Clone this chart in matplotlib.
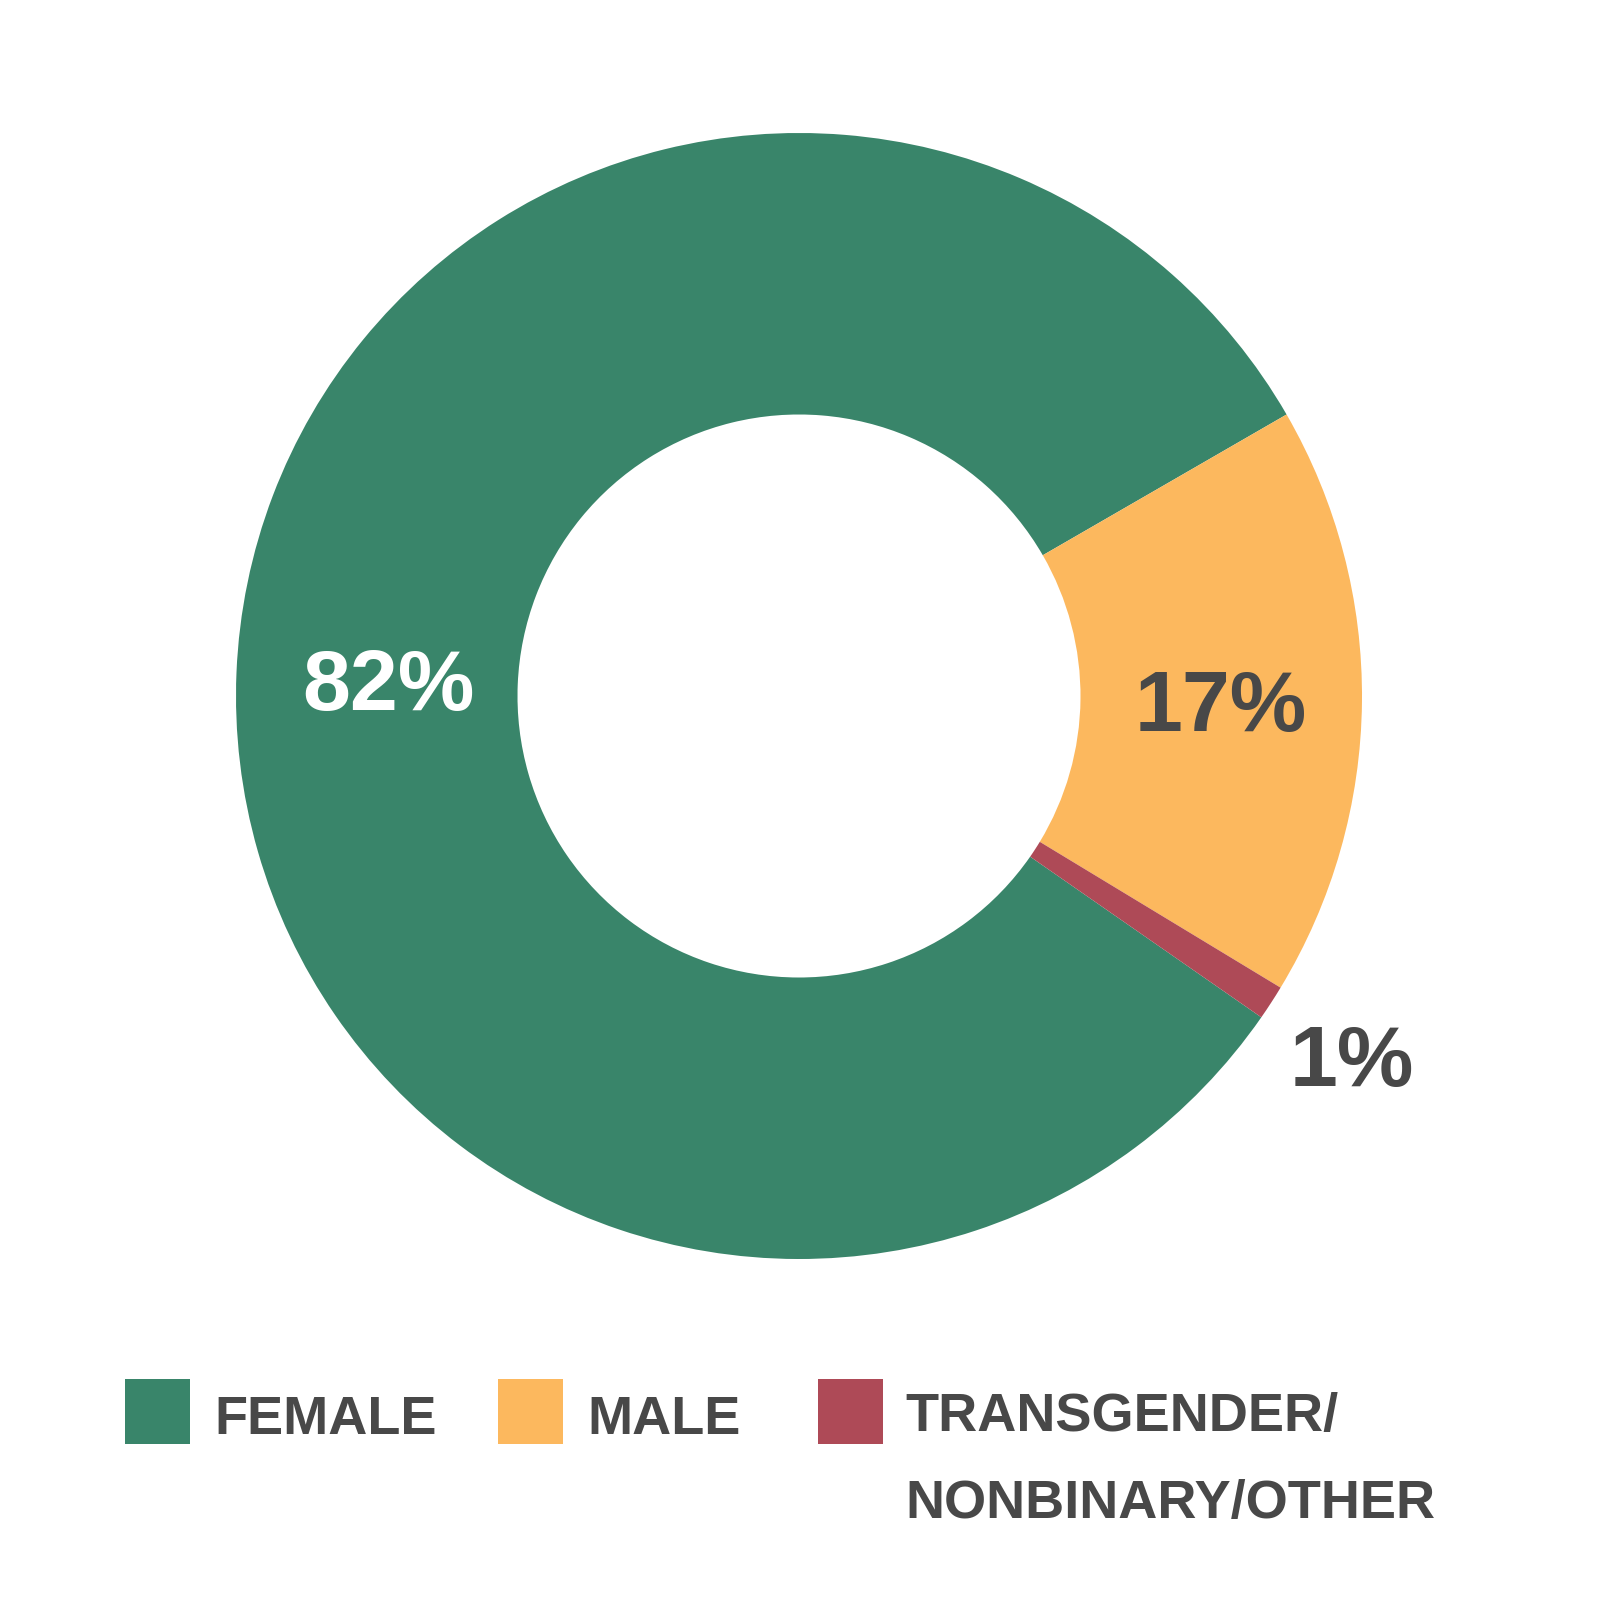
import numpy as np
import matplotlib
matplotlib.use("Agg")
import matplotlib.pyplot as plt
from matplotlib.patches import Rectangle

# data
labels = ["FEMALE", "MALE", "TRANSGENDER/\nNONBINARY/OTHER"]
shares = [82, 17, 1]
pct_text = ["82%", "17%", "1%"]
colors = ["#39856A", "#FCB85E", "#AE4A57"]
label_colors = ["white", "#484848", "#484848"]
label_radius = [0.73, 0.75, 1.17]

TEXT = "#484848"
plt.rcParams["font.family"] = ["Liberation Sans", "DejaVu Sans"]

W = 1600
fig = plt.figure(figsize=(16, 16), dpi=100)
fig.patch.set_facecolor("white")

# pie axes: center (799, 696) px, radius 563 px
cx, cy, r = 799 / W, 1 - 696 / W, 563 / W
ax = fig.add_axes([cx - r, cy - r, 2 * r, 2 * r])

# male segment starts at 30 deg going clockwise, so female starts 82% further
start = 30 + 360 * shares[0] / sum(shares)
wedges, _ = ax.pie(shares, colors=colors, startangle=start, counterclock=False,
                   radius=1, wedgeprops=dict(width=0.5, linewidth=0))
ax.set_xlim(-1, 1)
ax.set_ylim(-1, 1)
ax.set_aspect("equal")
ax.axis("off")

for w, txt, col, rad in zip(wedges, pct_text, label_colors, label_radius):
    mid = np.deg2rad((w.theta1 + w.theta2) / 2)
    ax.text(rad * np.cos(mid), rad * np.sin(mid), txt, color=col,
            fontsize=62, fontweight="bold", ha="center", va="center_baseline")

# legend drawn by hand to match the layout
sq_x = [125, 498, 818]
txt_x = [214, 587, 905]
sq = 65
base = 1434      # baseline of first text line
gap = 84         # distance between text lines
for lab, col, sx, tx in zip(labels, colors, sq_x, txt_x):
    fig.add_artist(Rectangle((sx / W, 1 - 1444 / W), sq / W, sq / W,
                             transform=fig.transFigure, facecolor=col, edgecolor="none"))
    n = lab.count("\n")
    fig.text(tx / W, 1 - (base + n * gap) / W, lab, color=TEXT, fontsize=39,
             fontweight="bold", ha="left", va="baseline", linespacing=1.96)

fig.savefig("out.png", dpi=100, facecolor="white")
